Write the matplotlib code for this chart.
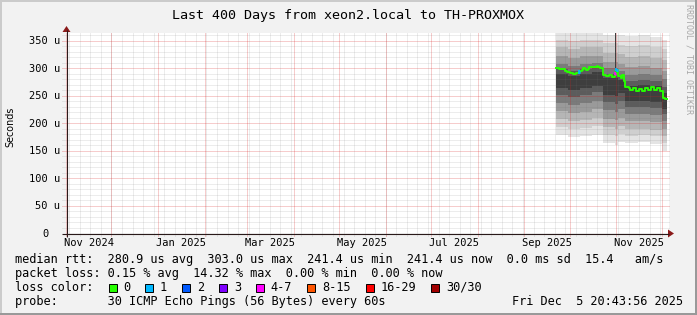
import datetime as dt
import numpy as np
import matplotlib
matplotlib.use("Agg")
import matplotlib.pyplot as plt
import matplotlib.dates as mdates
from matplotlib.transforms import blended_transform_factory, offset_copy
from matplotlib.patches import Rectangle, Polygon

# ---------------- data ----------------
title = "Last 400 Days from xeon2.local to TH-PROXMOX"
range_end = "2025-12-05 20:43:56"
range_days = 400
data_end = "2025-12-04 06:00"

yticks = [0, 50, 100, 150, 200, 250, 300, 350]
ytick_labels = ["0", "50 u", "100 u", "150 u", "200 u", "250 u", "300 u", "350 u"]
y_max = 364

xlabel_months = ["2024-11-01", "2025-01-01", "2025-03-01", "2025-05-01",
                 "2025-07-01", "2025-09-01", "2025-11-01"]
xlabel_texts = ["Nov 2024", "Jan 2025", "Mar 2025", "May 2025",
                "Jul 2025", "Sep 2025", "Nov 2025"]

# median rtt (microseconds) and loss class index per day step
median_dates = ["2025-09-22", "2025-09-24", "2025-09-26", "2025-09-28", "2025-09-29",
                "2025-10-01", "2025-10-03", "2025-10-05", "2025-10-07", "2025-10-08",
                "2025-10-09", "2025-10-10", "2025-10-11", "2025-10-12", "2025-10-13",
                "2025-10-14", "2025-10-16", "2025-10-18", "2025-10-19", "2025-10-20",
                "2025-10-21", "2025-10-22", "2025-10-23", "2025-10-25", "2025-10-27",
                "2025-10-29", "2025-10-31", "2025-11-01", "2025-11-02", "2025-11-04",
                "2025-11-05", "2025-11-06", "2025-11-07", "2025-11-09", "2025-11-10",
                "2025-11-12", "2025-11-14", "2025-11-16", "2025-11-18", "2025-11-20",
                "2025-11-22", "2025-11-24", "2025-11-26", "2025-11-28", "2025-11-30",
                "2025-12-01", "2025-12-02", "2025-12-03"]
median_us = [300, 299, 298, 295, 293,
             291, 290, 291, 293, 294,
             297, 300, 298, 296, 299,
             302, 303, 302, 304, 302,
             300, 301, 287, 285, 288,
             284, 290, 297, 286, 283,
             288, 276, 265, 263, 260,
             264, 258, 262, 259, 263,
             260, 265, 261, 263, 259,
             258, 246, 243]
median_loss = [0, 0, 0, 0, 0,
               0, 0, 0, 1, 0,
               0, 0, 0, 0, 0,
               0, 0, 0, 0, 0,
               0, 0, 0, 0, 0,
               0, 4, 1, 0, 0,
               0, 0, 0, 0, 0,
               0, 0, 0, 0, 0,
               0, 0, 0, 0, 0,
               0, 0, 0]

# smoke: nested percentile bands (outer -> inner), one value per interval
smoke_dates = ["2025-09-22", "2025-09-30", "2025-10-08", "2025-10-16", "2025-10-23",
               "2025-10-31", "2025-11-01", "2025-11-02", "2025-11-07", "2025-11-15",
               "2025-11-23", "2025-12-01"]
smoke_lo1 = [178, 174, 176, 179, 163, 160, 160, 165, 163, 165, 162, 150]
smoke_hi1 = [364, 364, 364, 364, 360, 364, 360, 360, 358, 360, 357, 352]
smoke_lo2 = [193, 190, 192, 195, 178, 176, 176, 180, 176, 178, 176, 163]
smoke_hi2 = [352, 350, 352, 352, 345, 364, 345, 343, 340, 342, 338, 335]
smoke_lo3 = [207, 204, 206, 210, 193, 190, 190, 195, 189, 190, 188, 176]
smoke_hi3 = [338, 335, 338, 338, 328, 364, 328, 325, 320, 322, 318, 315]
smoke_lo4 = [222, 218, 221, 225, 208, 205, 205, 210, 203, 204, 202, 190]
smoke_hi4 = [322, 318, 322, 323, 312, 364, 312, 308, 302, 304, 300, 295]
smoke_lo5 = [237, 233, 236, 240, 223, 220, 220, 225, 216, 217, 215, 203]
smoke_hi5 = [308, 304, 308, 310, 300, 364, 300, 295, 288, 290, 287, 280]
smoke_lo6 = [252, 248, 252, 256, 238, 235, 235, 240, 229, 230, 228, 216]
smoke_hi6 = [298, 294, 298, 300, 290, 364, 290, 285, 277, 279, 276, 266]
smoke_lo7 = [264, 260, 264, 268, 252, 250, 250, 254, 240, 241, 239, 226]
smoke_hi7 = [290, 286, 290, 293, 282, 364, 282, 278, 268, 270, 267, 255]
smoke_colors = ["#e4e4e4", "#cfcfcf", "#b6b6b6", "#9a9a9a", "#7b7b7b", "#5c5c5c", "#3e3e3e"]

loss_labels = ["0", "1", "2", "3", "4-7", "8-15", "16-29", "30/30"]
loss_colors = ["#26ff00", "#00b8ff", "#0059ff", "#7e00ff", "#ff00ff", "#ff5500", "#ff0000", "#a10000"]

legend_median = "median rtt:  280.9 us avg  303.0 us max  241.4 us min  241.4 us now  0.0 ms sd  15.4   am/s"
legend_loss = "packet loss: 0.15 % avg  14.32 % max  0.00 % min  0.00 % now"
legend_color = "loss color:"
legend_probe = "probe:       30 ICMP Echo Pings (56 Bytes) every 60s"
legend_stamp = "Fri Dec  5 20:43:56 2025"
ylabel = "Seconds"
watermark = "RRDTOOL / TOBI OETIKER"

# ---------------- drawing ----------------
MONO = "DejaVu Sans Mono"
plt.rcParams["font.family"] = MONO

def P(s):
    fmt = "%Y-%m-%d %H:%M:%S" if s.count(":") == 2 else ("%Y-%m-%d %H:%M" if ":" in s else "%Y-%m-%d")
    return dt.datetime.strptime(s, fmt)

t_end = P(range_end)
t_start = t_end - dt.timedelta(days=range_days)
t_data_end = P(data_end)

W, H = 697, 315
fig = plt.figure(figsize=(W / 100, H / 100), dpi=100)
fig.patch.set_facecolor("#f2f2f2")

X0, X1, Y0, Y1 = 66, 669, 33, 233
ax = fig.add_axes([X0 / W, 1 - Y1 / H, (X1 - X0) / W, (Y1 - Y0) / H])
ax.set_facecolor("white")
ax.set_xlim(mdates.date2num(t_start), mdates.date2num(t_end))
ax.set_ylim(0, y_max)
for s in ax.spines.values():
    s.set_visible(False)
ax.set_xticks([])
ax.set_yticks([])

# smoke
sx = mdates.date2num([P(d) for d in smoke_dates] + [t_data_end])
lows = [smoke_lo1, smoke_lo2, smoke_lo3, smoke_lo4, smoke_lo5, smoke_lo6, smoke_lo7]
highs = [smoke_hi1, smoke_hi2, smoke_hi3, smoke_hi4, smoke_hi5, smoke_hi6, smoke_hi7]
for lo, hi, col in zip(lows, highs, smoke_colors):
    ax.fill_between(sx, lo + [lo[-1]], hi + [hi[-1]], step="post", color=col,
                    lw=0, zorder=1, antialiased=False)

# grid (dotted in the original; drawn as light solid lines of the same average tone)
MINOR = (0.45, 0.45, 0.45, 0.13)
MAJOR = (0.85, 0.1, 0.1, 0.22)
gkw = dict(lw=0.72, clip_on=False, zorder=3)
for v in range(10, y_max, 10):
    col = MAJOR if v % 50 == 0 else MINOR
    ax.axhline(v, xmin=-4 / (X1 - X0), xmax=1, color=col, **gkw)
d = dt.datetime(2024, 11, 3)
while d < t_end:
    ax.axvline(mdates.date2num(d), ymin=-3 / 200, ymax=1, color=MINOR, **gkw)
    d += dt.timedelta(days=7)
y, m = t_start.year, t_start.month + 1
while True:
    d = dt.datetime(y, m, 1)
    if d > t_end:
        break
    ax.axvline(mdates.date2num(d), ymin=-3 / 200, ymax=1, color=MAJOR, **gkw)
    m += 1
    if m > 12:
        m, y = 1, y + 1

# median line
mx = mdates.date2num([P(d) for d in median_dates] + [t_data_end])
my = median_us + [median_us[-1]]
ax.step(mx, my, where="post", color=loss_colors[0], lw=1.4, zorder=4)
for i, li in enumerate(median_loss):
    if li > 0:
        ax.hlines(median_us[i], mx[i], mx[i + 1], color=loss_colors[li], lw=2.2, zorder=5)
        ax.vlines(mx[i], median_us[i] - 3, median_us[i] + 3, color=loss_colors[li], lw=1.3, zorder=5)

# tick labels
ytrans = blended_transform_factory(ax.transAxes, ax.transData)
for v, lab in zip(yticks, ytick_labels):
    dx = -6 if lab != "0" else -17
    ax.text(0, v, lab, transform=offset_copy(ytrans, fig=fig, x=dx, y=-3.7, units="dots"),
            ha="right", va="baseline", fontsize=7.45, family=MONO, color="black")
xtrans = offset_copy(blended_transform_factory(ax.transData, ax.transAxes), fig=fig,
                     x=0, y=-13, units="dots")
for ms, lab in zip(xlabel_months, xlabel_texts):
    ax.text(mdates.date2num(P(ms) + dt.timedelta(days=15)), 0, lab, transform=xtrans,
            ha="center", va="baseline", fontsize=7.45, family=MONO, color="black")

# overlay in pixel coordinates
ov = fig.add_axes([0, 0, 1, 1], zorder=10)
ov.set_xlim(0, W)
ov.set_ylim(H, 0)
ov.axis("off")
ov.patch.set_visible(False)

# borders
ov.add_patch(Rectangle((0, 0), W, 2, color="#cbcbcb", lw=0))
ov.add_patch(Rectangle((0, 0), 2, H, color="#cbcbcb", lw=0))
ov.add_patch(Rectangle((0, H - 2), W, 2, color="#999999", lw=0))
ov.add_patch(Rectangle((W - 2, 0), 2, H, color="#999999", lw=0))

# axes lines + arrows
AXC = "#2a1a1a"
ARC = "#8b1a1a"
ov.plot([62, 669], [233.5, 233.5], color=AXC, lw=0.8, solid_capstyle="butt")
ov.plot([66.5, 66.5], [237, 30], color=AXC, lw=0.8, solid_capstyle="butt")
ov.add_patch(Polygon([[668, 229.5], [668, 237.5], [674, 233.5]], closed=True, color=ARC, lw=0))
ov.add_patch(Polygon([[62.5, 32], [70.5, 32], [66.5, 26]], closed=True, color=ARC, lw=0))

# texts
ov.text(W / 2, 18.5, title, ha="center", va="baseline", fontsize=9.6, family=MONO)
ov.text(10.3, 127, ylabel, rotation=90, ha="center", va="center", fontsize=6.9,
        family="DejaVu Sans")
ov.text(688.5, 4, watermark, rotation=-90, ha="center", va="top", fontsize=6,
        family=MONO, color="#a8a8a8")

LF = 8.54
CW = LF * 100 / 72 * 0.602
ov.text(15, 263.3, legend_median, ha="left", va="baseline", fontsize=LF, family=MONO)
ov.text(15, 277.1, legend_loss, ha="left", va="baseline", fontsize=LF, family=MONO)
ov.text(15, 291.0, legend_color, ha="left", va="baseline", fontsize=LF, family=MONO)
ov.text(15, 304.7, legend_probe, ha="left", va="baseline", fontsize=LF, family=MONO)
ov.text(683, 304.7, legend_stamp, ha="right", va="baseline", fontsize=LF, family=MONO)

bx = 108.5
for lab, col in zip(loss_labels, loss_colors):
    ov.add_patch(Rectangle((bx, 283.5), 8, 8, facecolor=col, edgecolor="black", lw=0.7))
    ov.text(bx + 14.5, 291.0, lab, ha="left", va="baseline", fontsize=LF, family=MONO)
    bx += 14.5 + len(lab) * CW + 15.3

fig.savefig("out.png", dpi=100, facecolor=fig.get_facecolor())
